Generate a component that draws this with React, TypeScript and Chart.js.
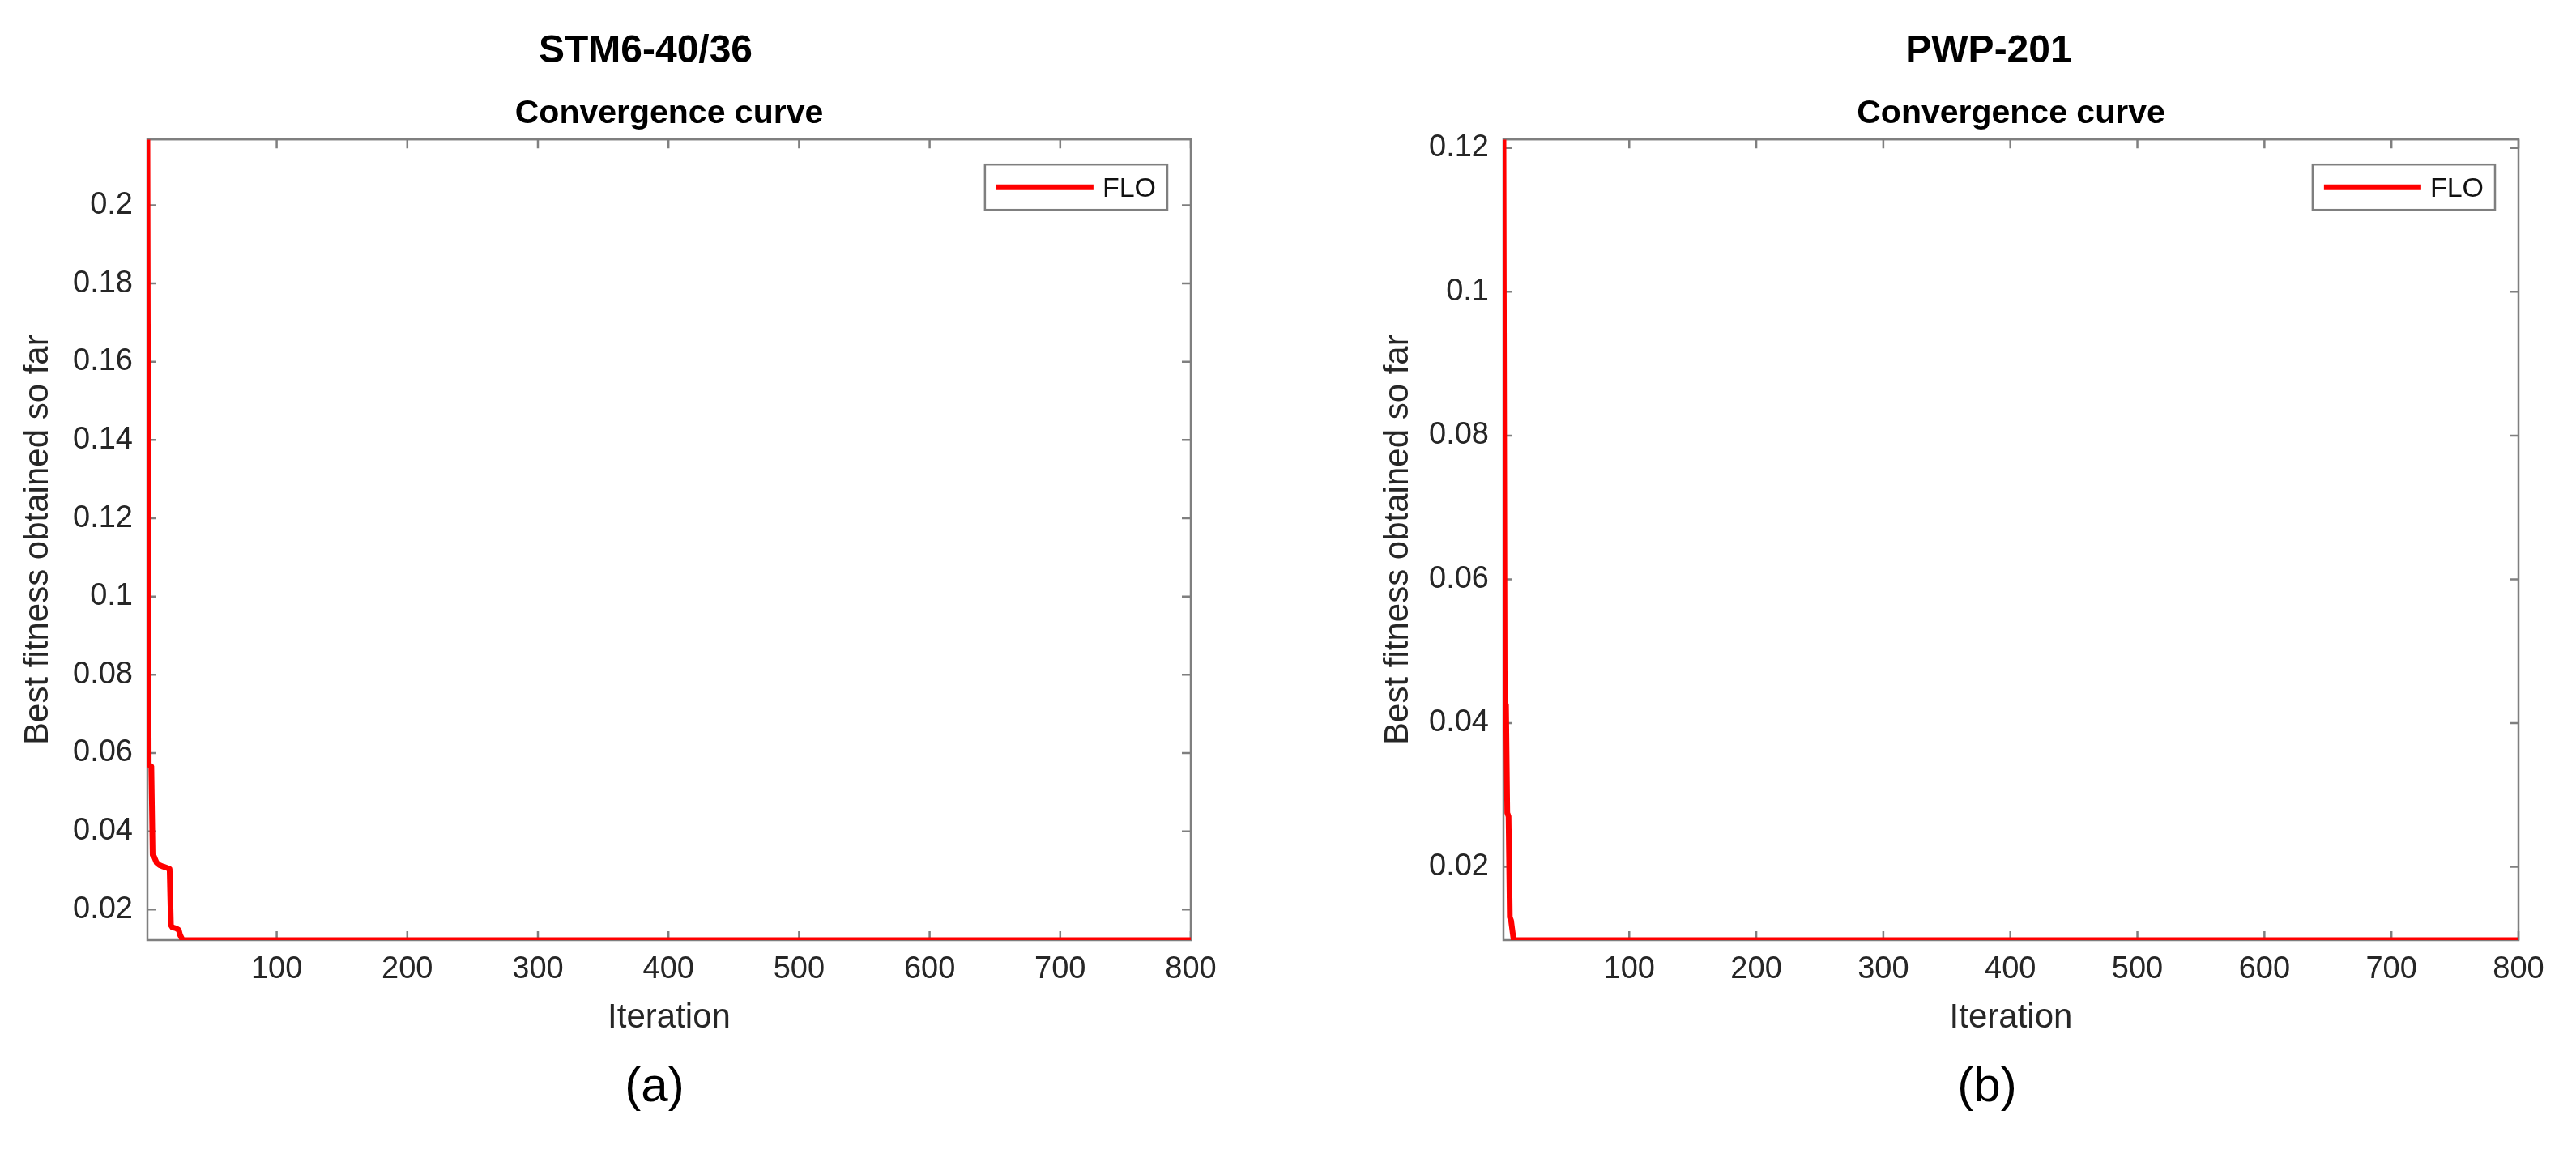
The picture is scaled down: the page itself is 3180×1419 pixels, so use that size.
import React, { useEffect, useRef } from "react";
import { Chart, registerables } from "chart.js";

Chart.register(...registerables);

// ---------- data ----------
const SERIES_LABEL = "FLO";

// (a) STM6-40/36
const ITER_A = [1, 2, 4, 5, 6, 8, 10, 13, 18, 19, 20, 23, 25, 26, 28, 800];
const FIT_A = [0.2168, 0.057, 0.0566, 0.034, 0.0336, 0.032, 0.0314, 0.031, 0.0304, 0.016, 0.0155, 0.0152, 0.0148, 0.0135, 0.0122, 0.0122];
const Y_TICKS_A = [0.02, 0.04, 0.06, 0.08, 0.1, 0.12, 0.14, 0.16, 0.18, 0.2];
const Y_LABELS_A = ["0.02", "0.04", "0.06", "0.08", "0.1", "0.12", "0.14", "0.16", "0.18", "0.2"];
const Y_RANGE_A = [0.0122, 0.2168];

// (b) PWP-201
const ITER_B = [1, 2, 3, 4, 5, 6, 7, 9, 800];
const FIT_B = [0.1212, 0.043, 0.0425, 0.0275, 0.027, 0.013, 0.0125, 0.0098, 0.0098];
const Y_TICKS_B = [0.02, 0.04, 0.06, 0.08, 0.1, 0.12];
const Y_LABELS_B = ["0.02", "0.04", "0.06", "0.08", "0.1", "0.12"];
const Y_RANGE_B = [0.0098, 0.1212];

const X_TICKS = [100, 200, 300, 400, 500, 600, 700, 800];
const X_LABELS = ["100", "200", "300", "400", "500", "600", "700", "800"];
const X_RANGE = [1, 800];

const PANEL_TITLES = ["STM6-40/36", "PWP-201"];
const PANEL_TAGS = ["(a)", "(b)"];
const PLOT_TITLE = "Convergence curve";
const X_TITLE = "Iteration";
const Y_TITLE = "Best fitness obtained so far";

// ---------- style ----------
const FONT = '"Liberation Sans", Arial, Helvetica, sans-serif';
const AXIS_COLOR = "#7f7f7f";
const TEXT_COLOR = "#262626";
const RED = "#ff0000";

const boxPlugin = {
  id: "matlabBox",
  beforeDatasetsDraw(chart: any) {
    const { ctx, chartArea } = chart;
    const { left, right, top, bottom } = chartArea;
    const xs = chart.scales.x;
    const ys = chart.scales.y;
    ctx.save();
    ctx.strokeStyle = AXIS_COLOR;
    ctx.lineWidth = 2.5;
    ctx.strokeRect(left, top, right - left, bottom - top);
    const L = 11;
    ctx.beginPath();
    xs.ticks.forEach((t: any) => {
      const px = xs.getPixelForValue(t.value);
      ctx.moveTo(px, bottom);
      ctx.lineTo(px, bottom - L);
      ctx.moveTo(px, top);
      ctx.lineTo(px, top + L);
    });
    ys.ticks.forEach((t: any) => {
      const py = ys.getPixelForValue(t.value);
      ctx.moveTo(left, py);
      ctx.lineTo(left + L, py);
      ctx.moveTo(right, py);
      ctx.lineTo(right - L, py);
    });
    ctx.stroke();
    ctx.restore();
  },
};

const legendPlugin = {
  id: "boxedLegend",
  afterDatasetsDraw(chart: any) {
    const { ctx, chartArea } = chart;
    const ds = chart.data.datasets[0];
    ctx.save();
    ctx.font = `34px ${FONT}`;
    const tw = ctx.measureText(ds.label).width;
    const padL = 14, lineLen = 120, gap = 11, padR = 14, h = 56;
    const w = padL + lineLen + gap + tw + padR;
    const x0 = chartArea.right - 29 - w;
    const y0 = chartArea.top + 31;
    ctx.fillStyle = "#ffffff";
    ctx.fillRect(x0, y0, w, h);
    ctx.strokeStyle = AXIS_COLOR;
    ctx.lineWidth = 2.5;
    ctx.strokeRect(x0, y0, w, h);
    ctx.strokeStyle = ds.borderColor;
    ctx.lineWidth = 7;
    ctx.beginPath();
    ctx.moveTo(x0 + padL, y0 + h / 2);
    ctx.lineTo(x0 + padL + lineLen, y0 + h / 2);
    ctx.stroke();
    ctx.fillStyle = "#111111";
    ctx.textBaseline = "alphabetic";
    ctx.textAlign = "left";
    ctx.fillText(ds.label, x0 + padL + lineLen + gap, y0 + 40);
    ctx.restore();
  },
};

type PanelProps = {
  iters: number[];
  fits: number[];
  yTicks: number[];
  yLabels: string[];
  yRange: number[];
  yAxisWidth: number;
  rightPad: number;
  yTitleOffset: number;
  left: number;
};

const CANVAS_W = 1590;
const CANVAS_H = 1419;

function Panel(p: PanelProps) {
  const ref = useRef<HTMLCanvasElement | null>(null);
  useEffect(() => {
    if (!ref.current) return;
    const tickFont = { family: FONT, size: 38 };
    const titleFont = { family: FONT, size: 42 };
    const chart = new Chart(ref.current, {
      type: "line",
      data: {
        datasets: [
          {
            label: SERIES_LABEL,
            data: p.iters.map((x, i) => ({ x, y: p.fits[i] })),
            borderColor: RED,
            backgroundColor: RED,
            borderWidth: 7,
            pointRadius: 0,
            tension: 0,
            borderJoinStyle: "round",
            borderCapStyle: "butt",
            fill: false,
          },
        ],
      },
      options: {
        animation: false,
        responsive: false,
        maintainAspectRatio: false,
        layout: { padding: { left: 0, top: 0, right: p.rightPad, bottom: 0 } },
        plugins: {
          legend: { display: false },
          tooltip: { enabled: false },
          title: {
            display: true,
            text: PLOT_TITLE,
            fullSize: false,
            color: "#000000",
            font: { family: FONT, size: 41, weight: "bold" },
            padding: { top: 116, bottom: 7 },
          },
        },
        scales: {
          x: {
            type: "linear",
            min: X_RANGE[0],
            max: X_RANGE[1],
            afterBuildTicks: (s: any) => {
              s.ticks = X_TICKS.map((v) => ({ value: v }));
            },
            afterFit: (s: any) => {
              s.height = 258;
            },
            grid: { display: false, drawTicks: false },
            border: { display: false },
            ticks: {
              font: tickFont,
              color: TEXT_COLOR,
              padding: 14,
              maxRotation: 0,
              autoSkip: false,
              callback: (_v: any, i: number) => X_LABELS[i],
            },
            title: {
              display: true,
              text: X_TITLE,
              color: TEXT_COLOR,
              font: titleFont,
              padding: { top: 0, bottom: 136 },
            },
          },
          y: {
            type: "linear",
            min: p.yRange[0],
            max: p.yRange[1],
            afterBuildTicks: (s: any) => {
              s.ticks = p.yTicks.map((v) => ({ value: v }));
            },
            afterFit: (s: any) => {
              s.width = p.yAxisWidth;
            },
            grid: { display: false, drawTicks: false },
            border: { display: false },
            ticks: {
              font: tickFont,
              color: TEXT_COLOR,
              padding: 18,
              autoSkip: false,
              callback: (_v: any, i: number) => p.yLabels[i],
            },
            title: {
              display: true,
              text: Y_TITLE,
              color: TEXT_COLOR,
              font: titleFont,
              padding: { top: p.yTitleOffset, bottom: 0 },
            },
          },
        },
      } as any,
      plugins: [boxPlugin, legendPlugin],
    });
    return () => chart.destroy();
  }, []);
  return (
    <canvas
      ref={ref}
      width={CANVAS_W}
      height={CANVAS_H}
      style={{ position: "absolute", left: p.left, top: 0, width: CANVAS_W, height: CANVAS_H }}
    />
  );
}

const headStyle = (cx: number): React.CSSProperties => ({
  position: "absolute",
  left: cx - 400,
  width: 800,
  top: 37,
  textAlign: "center",
  fontFamily: FONT,
  fontWeight: "bold",
  fontSize: 48,
  lineHeight: "48px",
  color: "#000",
  whiteSpace: "nowrap",
});

const tagStyle = (cx: number): React.CSSProperties => ({
  position: "absolute",
  left: cx - 200,
  width: 400,
  top: 1310,
  textAlign: "center",
  fontFamily: FONT,
  fontSize: 60,
  lineHeight: "60px",
  color: "#000",
  whiteSpace: "nowrap",
});

export default function App() {
  return (
    <div
      style={{
        position: "absolute",
        left: 0,
        top: 0,
        width: 3180,
        height: 1419,
        background: "#ffffff",
        overflow: "hidden",
      }}
    >
      <Panel
        iters={ITER_A}
        fits={FIT_A}
        yTicks={Y_TICKS_A}
        yLabels={Y_LABELS_A}
        yRange={Y_RANGE_A}
        yAxisWidth={182}
        rightPad={120}
        yTitleOffset={22}
        left={0}
      />
      <Panel
        iters={ITER_B}
        fits={FIT_B}
        yTicks={Y_TICKS_B}
        yLabels={Y_LABELS_B}
        yRange={Y_RANGE_B}
        yAxisWidth={266}
        rightPad={71}
        yTitleOffset={111}
        left={1590}
      />
      <div style={headStyle(797)}>{PANEL_TITLES[0]}</div>
      <div style={headStyle(2455)}>{PANEL_TITLES[1]}</div>
      <div style={tagStyle(808)}>{PANEL_TAGS[0]}</div>
      <div style={tagStyle(2453)}>{PANEL_TAGS[1]}</div>
    </div>
  );
}
